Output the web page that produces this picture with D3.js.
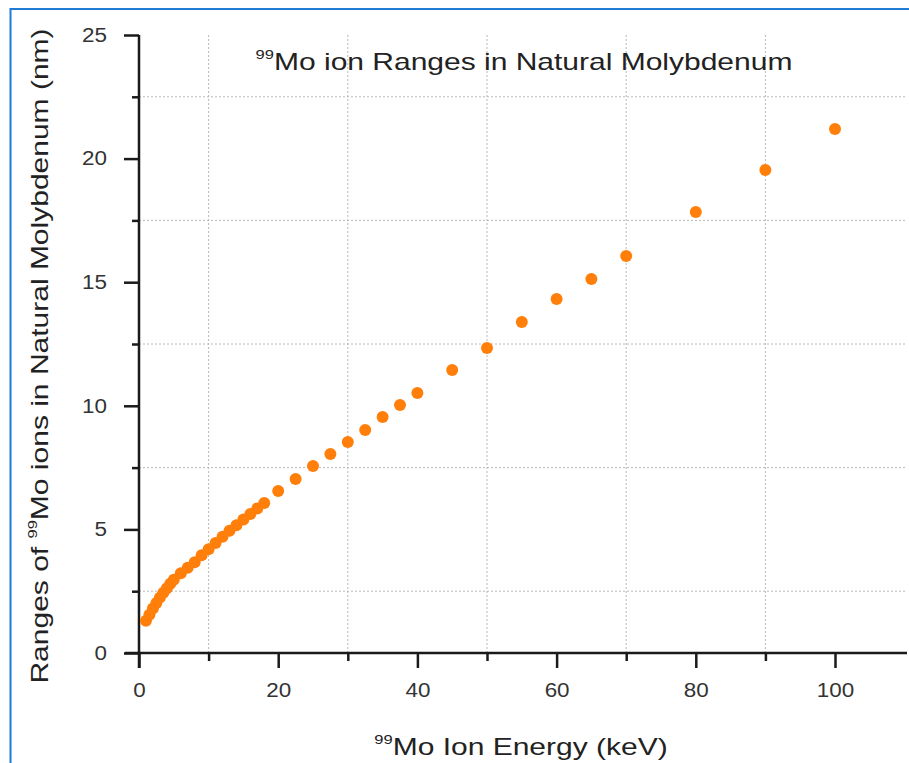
<!DOCTYPE html>
<html><head><meta charset="utf-8">
<script src="https://cdn.jsdelivr.net/npm/d3@7"></script>
<style>body{margin:0;background:#fff;} svg{display:block;font-family:"Liberation Sans",Arial,sans-serif;}</style>
</head><body>
<svg id="c" width="909" height="763"></svg>
<script>
const energies = [1, 1.5, 2, 2.5, 3, 3.5, 4, 4.5, 5, 6, 7, 8, 9, 10, 11, 12, 13, 14, 15, 16, 17, 18,
  20, 22.5, 25, 27.5, 30, 32.5, 35, 37.5, 40, 45, 50, 55, 60, 65, 70, 80, 90, 100];
const ranges = [1.3, 1.55, 1.8, 2.02, 2.24, 2.44, 2.62, 2.8, 2.96, 3.23, 3.45, 3.67, 3.95, 4.2, 4.45, 4.7, 4.95, 5.17, 5.4, 5.62, 5.85, 6.07,
  6.55, 7.04, 7.56, 8.05, 8.54, 9.02, 9.55, 10.03, 10.52, 11.45, 12.34, 13.39, 14.32, 15.13, 16.06, 17.84, 19.54, 21.2];
const xMajorTicks = [0, 20, 40, 60, 80, 100];
const xMinorTicks = [10, 30, 50, 70, 90];
const yMajorTicks = [0, 5, 10, 15, 20, 25];
const yMinorTicks = [2.5, 7.5, 12.5, 17.5, 22.5];

const svg = d3.select("#c");
const x = d3.scaleLinear().domain([0, 110]).range([139, 904.6]);
const y = d3.scaleLinear().domain([0, 25]).range([653, 35]);

function stretch(sel, f) {
  sel.each(function() {
    const L = this.getComputedTextLength();
    d3.select(this).attr("textLength", L * f).attr("lengthAdjust", "spacingAndGlyphs");
  });
}

// border
svg.append("rect").attr("x", 10.5).attr("y", 9).attr("width", 1000).attr("height", 1000)
  .attr("fill", "none").attr("stroke", "#1f7bd6").attr("stroke-width", 2);

// grid
const grid = svg.append("g").attr("stroke", "#b8b8b8").attr("stroke-width", 1).attr("stroke-dasharray", "2,2");
grid.selectAll("line.v").data(xMinorTicks).join("line")
  .attr("x1", d => x(d)).attr("x2", d => x(d)).attr("y1", y(25)).attr("y2", y(0));
grid.selectAll("line.h").data(yMinorTicks).join("line")
  .attr("x1", x(0)).attr("x2", 907).attr("y1", d => y(d)).attr("y2", d => y(d));

// axes
const axColor = "#1a1a1a";
const tickFont = 19.5;
const gx = svg.append("g").attr("transform", `translate(0,${y(0)})`);
gx.call(d3.axisBottom(x).tickValues(xMajorTicks).tickSize(15).tickPadding(15).tickFormat(d3.format("d")));
gx.append("g").call(d3.axisBottom(x).tickValues(xMinorTicks).tickSize(8).tickFormat(""));
gx.selectAll(".domain").remove();
gx.append("line").attr("x1", 125).attr("x2", 907).attr("stroke", axColor).attr("stroke-width", 2.5);
gx.selectAll(".tick line").attr("stroke", axColor).attr("stroke-width", 2.5);
gx.selectAll(".tick text").attr("font-size", tickFont).attr("fill", "#333").attr("font-family", "Liberation Sans, Arial, sans-serif");

const gy = svg.append("g").attr("transform", `translate(${x(0)},0)`);
gy.call(d3.axisLeft(y).tickValues(yMajorTicks).tickSize(15).tickPadding(17).tickFormat(d3.format("d")));
gy.append("g").call(d3.axisLeft(y).tickValues(yMinorTicks).tickSize(7).tickFormat(""));
gy.selectAll(".domain").remove();
gy.append("line").attr("y1", y(25)).attr("y2", 668).attr("stroke", axColor).attr("stroke-width", 2.5);
gy.selectAll(".tick line").attr("stroke", axColor).attr("stroke-width", 2.5);
gy.selectAll(".tick text").attr("font-size", tickFont).attr("fill", "#333").attr("font-family", "Liberation Sans, Arial, sans-serif");
stretch(svg.selectAll(".tick text"), 1.15);

// points
const pts = energies.map((e, i) => ({e, r: ranges[i]}));
svg.append("g").selectAll("circle").data(pts).join("circle")
  .attr("cx", d => x(d.e)).attr("cy", d => y(d.r)).attr("r", 6).attr("fill", "#ff7f0a");

// texts
function supText(sel, sup, rest, size) {
  sel.append("tspan").text(sup).attr("font-size", size * 0.55).attr("dy", -size * 0.45);
  sel.append("tspan").text(rest).attr("dy", size * 0.45);
}
const LS = 24, SX = 1.25;
const title = svg.append("text").attr("transform", `translate(524,70) scale(${SX},1)`).attr("text-anchor", "middle")
  .attr("font-size", LS).attr("fill", "#222");
supText(title, "99", "Mo ion Ranges in Natural Molybdenum", LS);

const xl = svg.append("text").attr("transform", `translate(521,755) scale(${SX},1)`).attr("text-anchor", "middle")
  .attr("font-size", LS).attr("fill", "#222");
supText(xl, "99", "Mo Ion Energy (keV)", LS);

const yl = svg.append("text").attr("transform", `translate(48,356) rotate(-90) scale(${SX},1)`).attr("text-anchor", "middle")
  .attr("font-size", LS).attr("fill", "#222");
supText(yl, "99", "Mo ions in Natural Molybdenum (nm)", LS);
yl.insert("tspan", ":first-child").text("Ranges of ");
</script>
</body></html>
